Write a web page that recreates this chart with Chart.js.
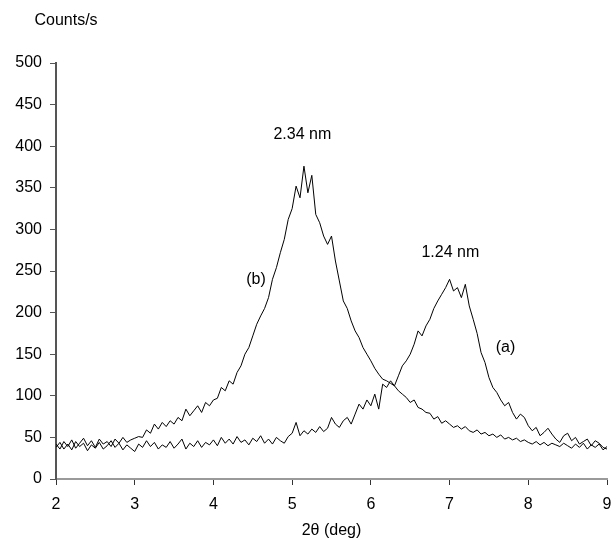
<!DOCTYPE html>
<html>
<head>
<meta charset="utf-8">
<script src="https://cdn.jsdelivr.net/npm/chart.js@4/dist/chart.umd.min.js"></script>
<style>
  body { margin: 0; background: #fff; }
  #wrap { width: 616px; height: 540px; position: relative; }
</style>
</head>
<body>
<div id="wrap"><canvas id="xrd_Chart"></canvas></div>
<script>
// scan grid: 2θ from 2 to 9 deg, step 0.05
const thetaStart = 2;
const thetaStep = 0.05;

// (a) 1.24 nm sample
const countsA = [
  38, 44, 36, 42, 35, 45, 39, 43, 34, 41,
  37, 44, 36, 40, 46, 38, 43, 35, 41, 37,
  33, 42, 38, 46, 39, 44, 36, 41, 38, 45,
  37, 42, 48, 36, 43, 39, 46, 38, 44, 41,
  47, 40, 50, 43, 48, 42, 51, 44, 47, 41,
  49, 45, 52, 43, 48, 42, 50, 46, 43, 51,
  55, 68, 52, 58, 54, 60, 56, 63, 57, 61,
  74, 66, 62, 70, 74, 66, 78, 90, 84, 95,
  88, 102, 84, 114, 110, 118, 112, 124, 136, 142,
  150, 162, 178, 172, 184, 192, 205, 214, 222, 230,
  240, 226, 230, 218, 234, 208, 192, 175, 152, 140,
  122, 110, 104, 95, 88, 92, 80, 72, 78, 74,
  64, 58, 62, 52, 56, 61, 54, 48, 44, 52,
  55, 46, 50, 42, 45, 48, 40, 46, 43, 38,
  36
];

// (b) 2.34 nm sample
const countsB = [
  42, 36, 45, 39, 47, 37, 43, 49, 40, 46,
  38, 48, 42, 45, 39, 48, 43, 50, 44, 47,
  49, 51, 50, 59, 55, 66, 60, 68, 63, 70,
  66, 74, 70, 84, 76, 82, 88, 80, 92, 88,
  95, 97, 110, 106, 118, 114, 128, 136, 150, 158,
  172, 186, 196, 205, 218, 240, 254, 272, 288, 312,
  325, 352, 338, 376, 344, 365, 318, 308, 292, 282,
  292, 262, 238, 214, 205, 190, 178, 170, 158, 150,
  142, 133, 126, 120, 118, 115, 112, 106, 102, 98,
  92, 95, 86, 84, 80, 79, 72, 75, 67, 70,
  66, 62, 64, 60, 63, 58, 56, 59, 54, 56,
  52, 54, 50, 53, 48, 50, 47, 49, 45, 47,
  44, 42, 45, 41, 44, 40, 43, 41, 39, 43,
  40, 37, 42, 38, 43, 36, 41, 38, 42, 35,
  39
];

const yTicks = [0, 50, 100, 150, 200, 250, 300, 350, 400, 450, 500];
const xTicks = [2, 3, 4, 5, 6, 7, 8, 9];

function toPoints(arr) {
    return arr.map(function(v, i) {
        return { x: +(thetaStart + i * thetaStep).toFixed(2), y: v };
    });
}

const FONT = '"Liberation Sans", Arial, Helvetica, sans-serif';

// text labels on the plot
const notes = [
    { text: '2.34 nm', x: 5.13, y: 414 },
    { text: '(b)', x: 4.54, y: 240 },
    { text: '1.24 nm', x: 7.01, y: 272 },
    { text: '(a)', x: 7.71, y: 158 }
];

const notesPlugin = {
    id: 'notes',
    afterDraw: function(chart) {
        const c = chart.ctx;
        const xs = chart.scales.x, ys = chart.scales.y;
        c.save();
        c.fillStyle = '#000';
        c.textAlign = 'center';
        c.textBaseline = 'middle';
        c.font = '16px ' + FONT;
        notes.forEach(function(n) {
            c.fillText(n.text, xs.getPixelForValue(n.x), ys.getPixelForValue(n.y));
        });
        c.fillText('Counts/s', chart.chartArea.left + 10, chart.chartArea.top - 42);
        c.restore();
    }
};

document.addEventListener("DOMContentLoaded", function() {
    const ctx = document.getElementById('xrd_Chart').getContext('2d');
    const xrd_Chart = new Chart(ctx, {
        type: 'line',
        data: {
            datasets: [{
                label: '(a)',
                data: toPoints(countsA),
                borderColor: '#000',
                borderWidth: 1,
                pointRadius: 0,
                fill: false,
                tension: 0
            },
            {
                label: '(b)',
                data: toPoints(countsB),
                borderColor: '#000',
                borderWidth: 1,
                pointRadius: 0,
                fill: false,
                tension: 0
            }]
        },
        options: {
            responsive: true,
            maintainAspectRatio: false,
            animation: false,
            layout: { padding: { left: 0, right: 9, top: 63, bottom: 0 } },
            plugins: {
                legend: { display: false },
                tooltip: { enabled: false }
            },
            scales: {
                x: {
                    type: 'linear',
                    min: 2,
                    max: 9,
                    afterBuildTicks: function(scale) {
                        scale.ticks = xTicks.map(function(v) { return { value: v }; });
                    },
                    afterFit: function(scale) {
                        scale.height = 61;
                        scale.paddingLeft = 0;
                        scale.paddingRight = 0;
                    },
                    border: { color: '#9a9a9a', width: 2 },
                    grid: {
                        drawOnChartArea: false,
                        drawTicks: true,
                        tickLength: 6,
                        color: '#333',
                        lineWidth: 1
                    },
                    ticks: {
                        color: '#000',
                        padding: 10,
                        maxRotation: 0,
                        font: { family: FONT, size: 16 }
                    },
                    title: {
                        display: true,
                        text: '2θ (deg)',
                        color: '#000',
                        padding: { top: 0, bottom: 0 },
                        font: { family: FONT, size: 16 }
                    }
                },
                y: {
                    min: 0,
                    max: 500,
                    afterBuildTicks: function(scale) {
                        scale.ticks = yTicks.map(function(v) { return { value: v }; });
                    },
                    afterFit: function(scale) { scale.width = 56; },
                    border: { color: '#555', width: 2 },
                    grid: {
                        drawOnChartArea: false,
                        drawTicks: true,
                        tickLength: 6,
                        color: '#555',
                        lineWidth: 1
                    },
                    ticks: {
                        color: '#000',
                        padding: 8,
                        font: { family: FONT, size: 16 }
                    }
                }
            }
        },
        plugins: [notesPlugin]
    });
});
</script>
</body>
</html>
